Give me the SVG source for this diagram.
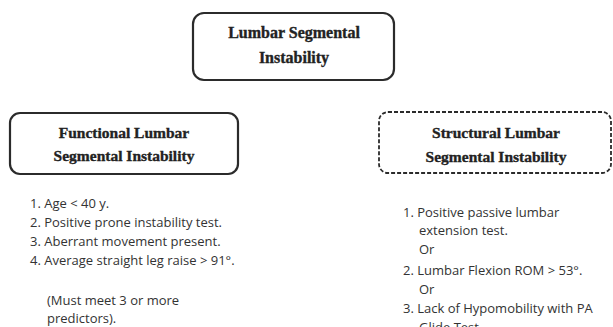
<svg xmlns="http://www.w3.org/2000/svg" width="613" height="327" viewBox="0 0 613 327">
  <style>
    .box { fill: #ffffff; stroke: #2b2b2b; stroke-width: 2.2; }
    .dashed { stroke-dasharray: 4 2; stroke-width: 1.8; }
    .title { font-family: "Liberation Serif", "Times New Roman", serif; font-weight: bold; fill: #222222; stroke: #222222; stroke-width: 0.35; text-anchor: middle; }
    .item { font-family: "Open Sans", "Liberation Sans", sans-serif; font-size: 13px; fill: #333333; }
  </style>
  <rect width="613" height="327" fill="#ffffff"/>

  <g id="root-node">
    <rect class="box" x="193" y="13" width="201" height="67" rx="11"/>
    <text class="title" x="294" y="38" font-size="16">Lumbar Segmental</text>
    <text class="title" x="294" y="63" font-size="16">Instability</text>
  </g>

  <g id="functional-node">
    <rect class="box" x="10" y="113" width="228" height="61" rx="10"/>
    <text class="title" x="124" y="138" font-size="15.5">Functional Lumbar</text>
    <text class="title" x="124" y="161" font-size="15.5">Segmental Instability</text>
  </g>

  <g id="structural-node">
    <rect class="box dashed" x="379" y="112" width="232" height="61" rx="9"/>
    <text class="title" x="496" y="138" font-size="15.5">Structural Lumbar</text>
    <text class="title" x="496" y="162" font-size="15.5">Segmental Instability</text>
  </g>

  <g id="functional-criteria">
    <text class="item" x="30" y="208">1. Age &lt; 40 y.</text>
    <text class="item" x="30" y="227">2. Positive prone instability test.</text>
    <text class="item" x="30" y="246">3. Aberrant movement present.</text>
    <text class="item" x="30" y="265">4. Average straight leg raise &gt; 91°.</text>
    <text class="item" x="47" y="305">(Must meet 3 or more</text>
    <text class="item" x="47" y="323">predictors).</text>
  </g>

  <g id="structural-criteria">
    <text class="item" x="403" y="217">1. Positive passive lumbar</text>
    <text class="item" x="419" y="235">extension test.</text>
    <text class="item" x="419" y="254">Or</text>
    <text class="item" x="403" y="275">2. Lumbar Flexion ROM &gt; 53°.</text>
    <text class="item" x="419" y="294">Or</text>
    <text class="item" x="403" y="313">3. Lack of Hypomobility with PA</text>
    <text class="item" x="419" y="332">Glide Test.</text>
  </g>

  <g id="connectors"/>
</svg>
